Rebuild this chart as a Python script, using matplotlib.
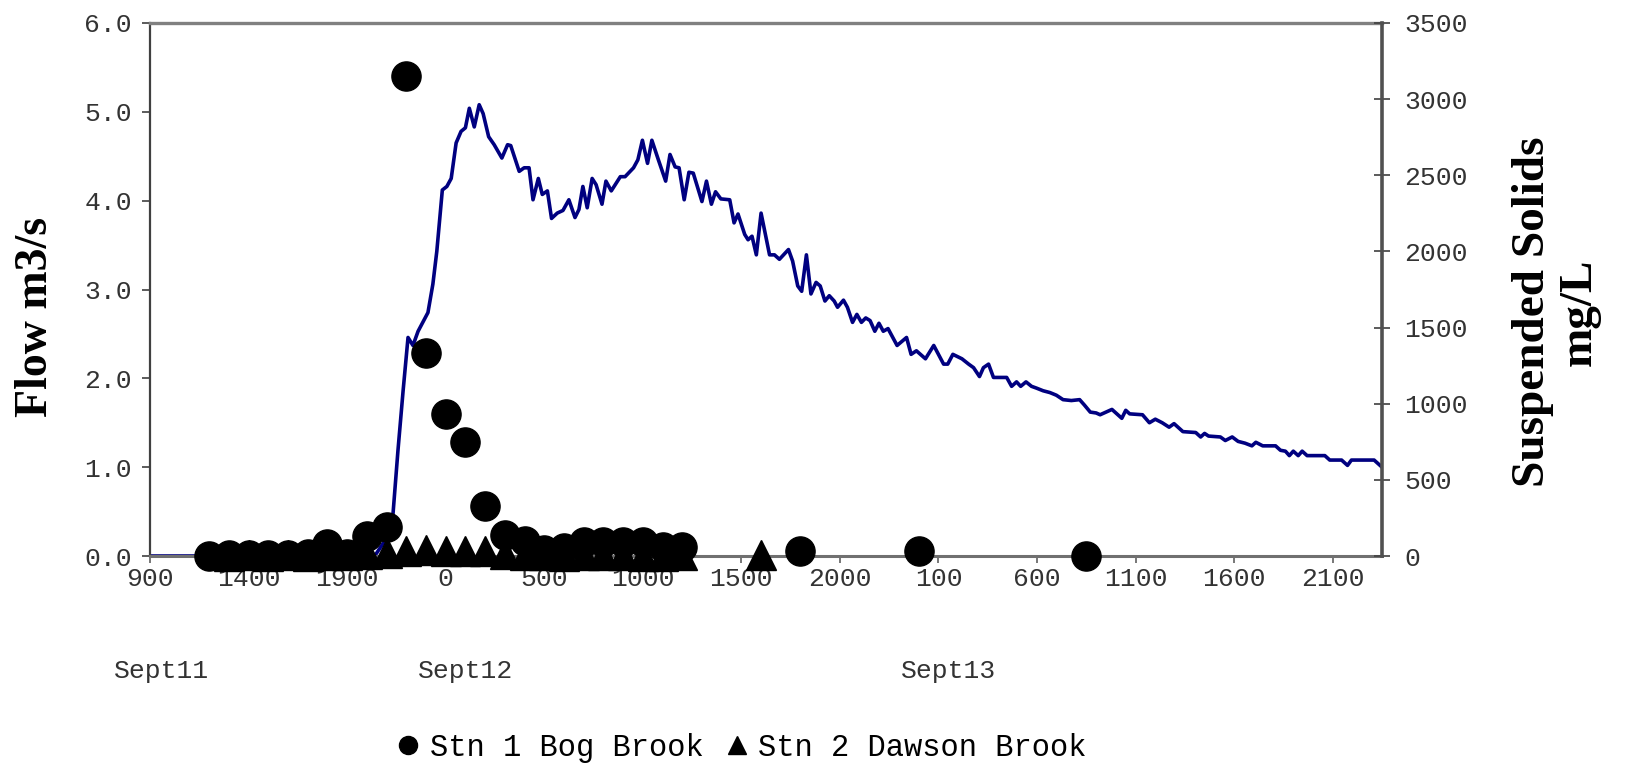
import numpy as np
import matplotlib
matplotlib.use('Agg')
import matplotlib.pyplot as plt

# Data: hours counted from Sept 11 00:00
flow_hours = [9.0, 20.4, 20.85, 21.33, 21.58, 21.84, 22.09, 22.34, 22.6, 23.1, 23.35, 23.55,
              23.83, 24.06, 24.28, 24.53, 24.78, 25.0, 25.2, 25.45, 25.7, 25.9, 26.18, 26.46,
              26.85, 27.14, 27.3, 27.73, 27.98, 28.23, 28.43, 28.7, 28.9, 29.16, 29.37, 29.66,
              29.95, 30.25, 30.56, 30.76, 30.96, 31.18, 31.43, 31.63, 31.93, 32.13, 32.4, 32.86,
              33.1, 33.53, 33.75, 33.98, 34.24, 34.46, 34.79, 35.16, 35.38, 35.64, 35.84, 36.1,
              36.34, 36.56, 37.0, 37.23, 37.48, 37.69, 37.96, 38.41, 38.63, 38.83, 39.17, 39.34,
              39.54, 39.76, 40.0, 40.43, 40.68, 40.93, 41.39, 41.6, 41.86, 42.06, 42.3, 42.53,
              42.79, 43.0, 43.24, 43.46, 43.71, 43.88, 44.18, 44.38, 44.64, 44.86, 45.09, 45.31,
              45.53, 45.77, 45.98, 46.2, 46.44, 46.9, 47.38, 47.61, 47.88, 48.34, 48.76, 49.26,
              49.47, 49.73, 50.19, 50.53, 50.78, 51.08, 51.28, 51.54, 51.79, 52.46, 52.71, 52.96,
              53.17, 53.44, 53.72, 53.97, 54.31, 54.65, 54.98, 55.32, 55.74, 56.16, 56.4, 56.7,
              57.0, 57.2, 57.8, 58.3, 58.5, 58.7, 59.35, 59.7, 60.0, 60.35, 60.7, 60.95,
              61.4, 62.05, 62.3, 62.5, 62.7, 63.3, 63.55, 63.9, 64.2, 64.55, 64.9, 65.1,
              65.45, 66.1, 66.35, 66.6, 66.8, 67.0, 67.25, 67.45, 67.7, 68.6, 68.85, 69.45,
              69.75, 69.95, 71.1, 71.5]
flow = [0.0, 0.0, 0.15, 0.48, 1.19, 1.86, 2.46, 2.37, 2.53, 2.74, 3.06, 3.43,
        4.12, 4.16, 4.25, 4.65, 4.78, 4.82, 5.04, 4.83, 5.08, 4.98, 4.72, 4.63,
        4.48, 4.63, 4.62, 4.33, 4.37, 4.37, 4.01, 4.25, 4.07, 4.11, 3.80, 3.86,
        3.89, 4.01, 3.81, 3.90, 4.16, 3.92, 4.25, 4.18, 3.96, 4.22, 4.11, 4.27,
        4.27, 4.37, 4.46, 4.68, 4.42, 4.68, 4.46, 4.22, 4.52, 4.38, 4.37, 4.01,
        4.32, 4.31, 3.99, 4.22, 3.96, 4.10, 4.02, 4.01, 3.75, 3.85, 3.62, 3.56,
        3.60, 3.39, 3.86, 3.39, 3.39, 3.34, 3.45, 3.32, 3.04, 2.98, 3.39, 2.95,
        3.08, 3.04, 2.87, 2.93, 2.87, 2.80, 2.88, 2.80, 2.63, 2.72, 2.63, 2.68,
        2.65, 2.53, 2.62, 2.53, 2.56, 2.37, 2.46, 2.27, 2.31, 2.22, 2.37, 2.16,
        2.16, 2.27, 2.22, 2.16, 2.12, 2.02, 2.12, 2.16, 2.01, 2.01, 1.91, 1.96,
        1.91, 1.96, 1.91, 1.89, 1.86, 1.84, 1.81, 1.76, 1.75, 1.76, 1.70, 1.62,
        1.61, 1.59, 1.65, 1.55, 1.64, 1.60, 1.59, 1.50, 1.54, 1.50, 1.45, 1.49,
        1.40, 1.39, 1.34, 1.38, 1.35, 1.34, 1.30, 1.34, 1.29, 1.27, 1.24, 1.28,
        1.24, 1.24, 1.19, 1.18, 1.13, 1.18, 1.13, 1.18, 1.13, 1.13, 1.08, 1.08,
        1.02, 1.08, 1.08, 1.00]

# Suspended solids samples (mg/L)
stn1_hours = [12, 13, 14, 15, 16, 17, 18, 19, 20, 21, 22, 23, 24, 25, 26, 27, 28, 29,
              30, 31, 32, 33, 34, 35, 36, 42, 48, 56.5]
stn1_ss = [0, 5, 5, 5, 5, 10, 80, 15, 130, 190, 3150, 1330, 930, 750, 330, 135, 100, 40,
           50, 90, 95, 95, 90, 60, 60, 30, 30, 0]
stn2_hours = [13, 14, 15, 16, 17, 18, 19, 20, 21, 22, 23, 24, 25, 26, 27, 28, 29, 30,
              31, 32, 33, 34, 35, 36, 40]
stn2_ss = [0, 5, 0, 5, 0, 5, 5, 10, 20, 35, 38, 35, 35, 30, 10, 5, 5, 0,
           5, 5, 5, 0, 0, 5, 5]

tick_hours = [9, 14, 19, 24, 29, 34, 39, 44, 49, 54, 59, 64, 69]
tick_labels = ['900', '1400', '1900', '0', '500', '1000', '1500', '2000',
               '100', '600', '1100', '1600', '2100']
day_hours = [9.6, 25.0, 49.5]
day_labels = ['Sept11', 'Sept12', 'Sept13']

mono = 'Liberation Mono'
serif = 'Liberation Serif'

fig = plt.figure(figsize=(16.29, 7.68), dpi=100)
ax = fig.add_axes([150 / 1629, 1 - 556 / 768, (1382 - 150) / 1629, (556 - 23) / 768])
ax2 = ax.twinx()

# Flow line (left axis)
ax.plot(flow_hours, flow, color='#000080', lw=2.6, zorder=2)
ax.set_xlim(9, 71.5)
ax.set_ylim(0, 6)
ax.set_yticks(np.arange(0, 6.1, 1.0))
ax.set_yticklabels(['%.1f' % v for v in np.arange(0, 6.1, 1.0)])
ax.set_xticks(tick_hours)
ax.set_xticklabels(tick_labels)

# Suspended solids (right axis)
ax2.plot(stn2_hours, stn2_ss, linestyle='none', marker='^', ms=21, color='black',
         clip_on=False, zorder=3, label='Stn 2 Dawson Brook')
ax2.plot(stn1_hours, stn1_ss, linestyle='none', marker='o', ms=21, color='black',
         clip_on=False, zorder=4, label='Stn 1 Bog Brook')
ax2.set_ylim(0, 3500)
ax2.set_yticks(range(0, 3501, 500))
ax2.set_xlim(9, 71.5)

# Styling
for a in (ax, ax2):
    a.set_facecolor('none')
    for s in a.spines.values():
        s.set_visible(False)
ax.spines['left'].set_visible(True)
ax.spines['left'].set_color('#404040')
ax.spines['left'].set_linewidth(1.6)
ax.spines['top'].set_visible(True)
ax.spines['top'].set_color('#808080')
ax.spines['top'].set_linewidth(2.4)
ax.spines['bottom'].set_visible(True)
ax.spines['bottom'].set_color('#707070')
ax.spines['bottom'].set_linewidth(2.2)
ax2.spines['right'].set_visible(True)
ax2.spines['right'].set_color('#505050')
ax2.spines['right'].set_linewidth(2.6)

ax.tick_params(axis='x', direction='out', length=5, width=1.2, color='#606060',
               pad=3, labelsize=19, labelcolor='#333333')
ax.tick_params(axis='y', direction='out', length=6, width=1.2, color='#404040',
               pad=7, labelsize=19, labelcolor='#333333')
ax2.tick_params(axis='y', direction='inout', length=12, width=1.2, color='#404040',
                pad=10, labelsize=19, labelcolor='#333333')
for lab in ax.get_xticklabels() + ax.get_yticklabels() + ax2.get_yticklabels():
    lab.set_family(mono)

# Axis titles
fig.text(36 / 1629, 1 - 317 / 768, 'Flow m3/s', rotation=90, ha='center', va='center',
         family=serif, weight='bold', fontsize=33)
fig.text(1556 / 1629, 1 - 312 / 768, 'Suspended Solids\nmg/L', rotation=90, ha='center',
         va='center', multialignment='center', linespacing=1.15,
         family=serif, weight='bold', fontsize=34)

# Day labels under the time axis
for h, lab in zip(day_hours, day_labels):
    ax.text(h, -0.215, lab, transform=ax.get_xaxis_transform(), ha='center', va='center',
            family=mono, fontsize=19, color='#333333')

# Legend
handles = [plt.Line2D([], [], linestyle='none', marker='o', ms=13, color='black'),
           plt.Line2D([], [], linestyle='none', marker='^', ms=13, color='black')]
fig.legend(handles, ['Stn 1 Bog Brook', 'Stn 2 Dawson Brook'], loc='center',
           bbox_to_anchor=(740 / 1629, 1 - 748 / 768), ncol=2, frameon=False,
           prop={'family': mono, 'size': 22}, handletextpad=0.2, columnspacing=0.6,
           handlelength=1.0)

fig.savefig('out.png', dpi=100)
